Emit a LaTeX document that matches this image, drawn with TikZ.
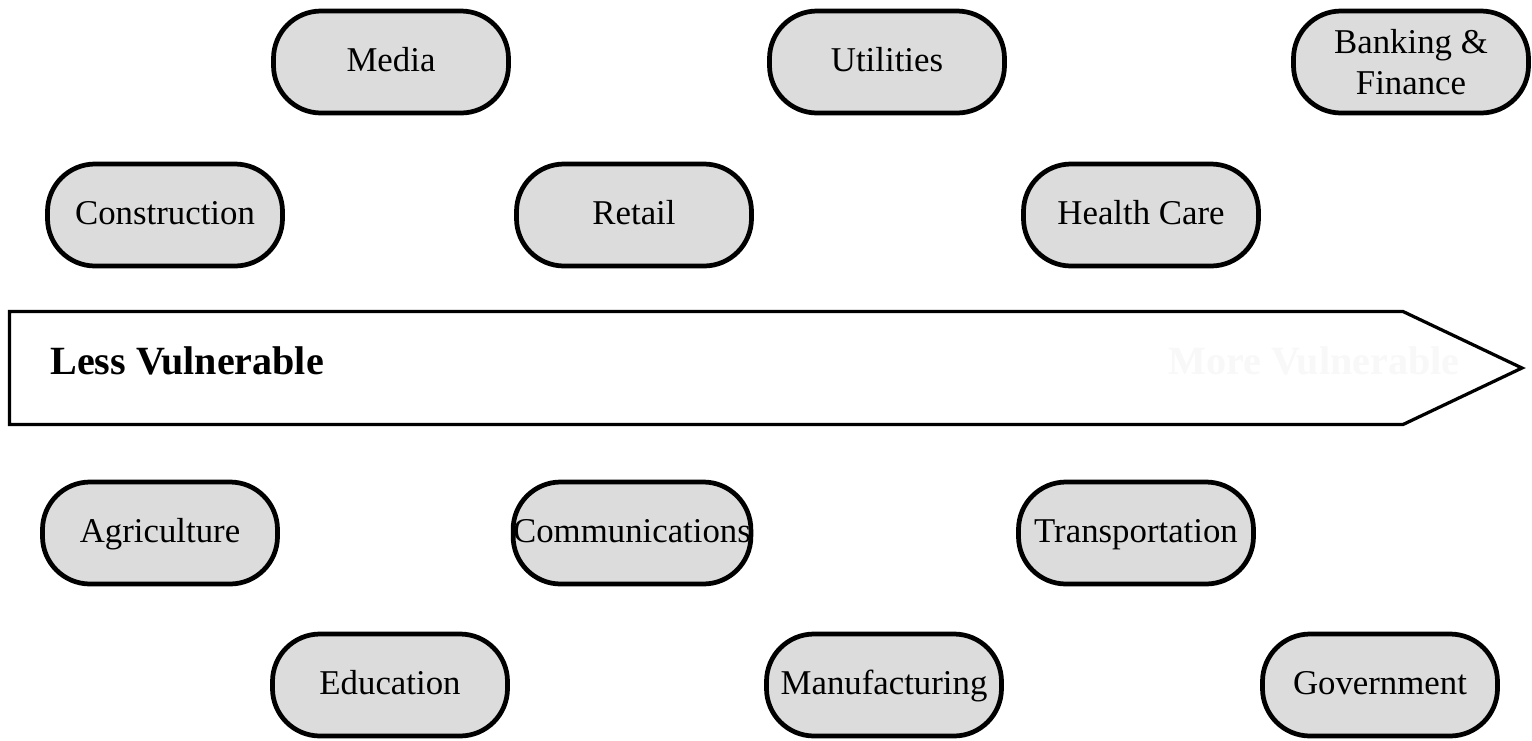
\documentclass[tikz,border=0pt]{standalone}
\usepackage{fontspec}
\setmainfont{Liberation Serif}
\usepackage{xcolor}
\usepackage{tikz}

\definecolor{sectorgray}{RGB}{220,220,220}
\definecolor{faintwhite}{RGB}{248,248,248}

\begin{document}
\begin{tikzpicture}[
    sector/.style={draw, fill=sectorgray, line width=0.095cm, rounded corners=0.95cm,
        minimum width=4.7cm, minimum height=2.04cm, inner xsep=0pt, align=center,
        text height=15.3pt, text depth=4.5pt,
        font=\fontsize{19.8}{23}\selectfont},
    twoline/.style={sector, text height=, text depth=},
    label/.style={font=\fontsize{22.8}{26}\selectfont\bfseries, anchor=base}
  ]
    \useasboundingbox (0,0) rectangle (30.64,-14.8);

    % Top rows
    \node[sector] (media) at (7.82,-1.24) {Media};
    \node[sector] (utilities) at (17.74,-1.24) {Utilities};
    \node[twoline] (banking) at (28.22,-1.24) {Banking \&\\Finance};

    \node[sector] (construction) at (3.30,-4.30) {Construction};
    \node[sector] (retail) at (12.68,-4.30) {Retail};
    \node[sector] (health) at (22.82,-4.30) {Health Care};

    % Arrow
    \coordinate (tailtop) at (0.19,-6.23);
    \coordinate (tailbot) at (0.19,-8.49);
    \coordinate (bodytop) at (28.06,-6.23);
    \coordinate (bodybot) at (28.06,-8.49);
    \coordinate (tip) at (30.44,-7.36);
    \draw[line width=0.065cm, fill=white] (tailtop) -- (bodytop) -- (tip) -- (bodybot) -- (tailbot) -- cycle;
    \node[label, anchor=base west, inner sep=0pt] (less) at (1.0,-7.48) {Less Vulnerable};
    \node[label, text=faintwhite, inner sep=0pt] (more) at (26.28,-7.48) {More Vulnerable};

    % Bottom rows
    \node[sector] (agriculture) at (3.20,-10.66) {Agriculture};
    \node[sector] (communications) at (12.64,-10.66) {Communications};
    \node[sector] (transportation) at (22.72,-10.66) {Transportation};

    \node[sector] (education) at (7.80,-13.70) {Education};
    \node[sector] (manufacturing) at (17.68,-13.70) {Manufacturing};
    \node[sector] (government) at (27.60,-13.70) {Government};
  \end{tikzpicture}
\end{document}
